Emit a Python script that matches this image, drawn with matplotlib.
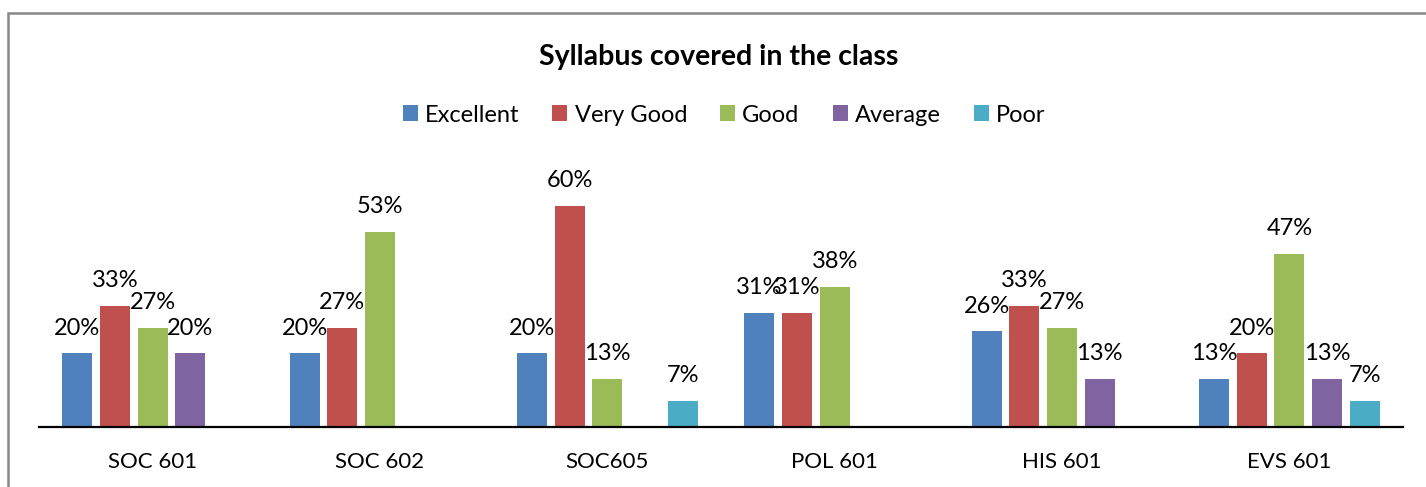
import numpy as np
import matplotlib
matplotlib.use("Agg")
import matplotlib.pyplot as plt
from matplotlib.patches import Rectangle, Patch

plt.rcParams["font.family"] = ["Lato", "DejaVu Sans"]

courses = ["SOC 601", "SOC 602", "SOC605", "POL 601", "HIS 601", "EVS 601"]
series = ["Excellent", "Very Good", "Good", "Average", "Poor"]
# percent of respondents; nan = no response in that category
excellent = [20, 20, 20, 31, 26, 13]
very_good = [33, 27, 60, 31, 33, 20]
good = [27, 53, 13, 38, 27, 47]
average = [20, np.nan, np.nan, np.nan, 13, 13]
poor = [np.nan, np.nan, 7, np.nan, np.nan, 7]
colors = ["#4F81BD", "#C0504D", "#9BBB59", "#8064A2", "#4BACC6"]

W, H = 1426, 487
fig = plt.figure(figsize=(W / 100, H / 100), dpi=100)

# outer chart frame (only left/top edges fall inside the image)
fig.patches.append(Rectangle((8 / W, -0.1), 1.2, (H - 13) / H + 0.1,
                             transform=fig.transFigure, fill=False,
                             ec="#888888", lw=1.8))

ax = fig.add_axes([39 / W, (H - 427) / H, (1403 - 39) / W, (427 - 169.4) / H])
x = np.arange(len(courses))
pitch, width = 0.166, 0.132
for i, (vals, c) in enumerate(zip([excellent, very_good, good, average, poor], colors)):
    v = np.array(vals, dtype=float)
    xs = x + (i - 2) * pitch
    ax.bar(xs, np.nan_to_num(v), width=width, color=c, zorder=2)
    for xi, vi in zip(xs, v):
        if not np.isnan(vi):
            ax.annotate(f"{vi:.0f}%", (xi, vi), textcoords="offset points",
                        xytext=(0, 13.5), ha="center", va="baseline", fontsize=17)

ax.set_xlim(-0.5, len(courses) - 0.5)
ax.set_ylim(0, 70)
ax.set_xticks(x)
ax.set_xticklabels(courses, fontsize=16)
ax.tick_params(axis="x", length=0, pad=18)
ax.set_yticks([])
for s in ["left", "right", "top"]:
    ax.spines[s].set_visible(False)
ax.spines["bottom"].set_linewidth(1.6)
ax.spines["bottom"].set_zorder(3)

fig.text(719 / W, (H - 65) / H, "Syllabus covered in the class", ha="center",
         va="baseline", fontsize=20.5, fontweight="bold")
handles = [Patch(facecolor=c, edgecolor="none", label=s) for s, c in zip(series, colors)]
fig.legend(handles=handles, loc="center", bbox_to_anchor=(724 / W, (H - 115) / H),
           ncol=5, frameon=False, fontsize=17, handlelength=0.64, handleheight=0.64,
           handletextpad=0.3, columnspacing=1.4)

fig.savefig("out.png", dpi=100)
